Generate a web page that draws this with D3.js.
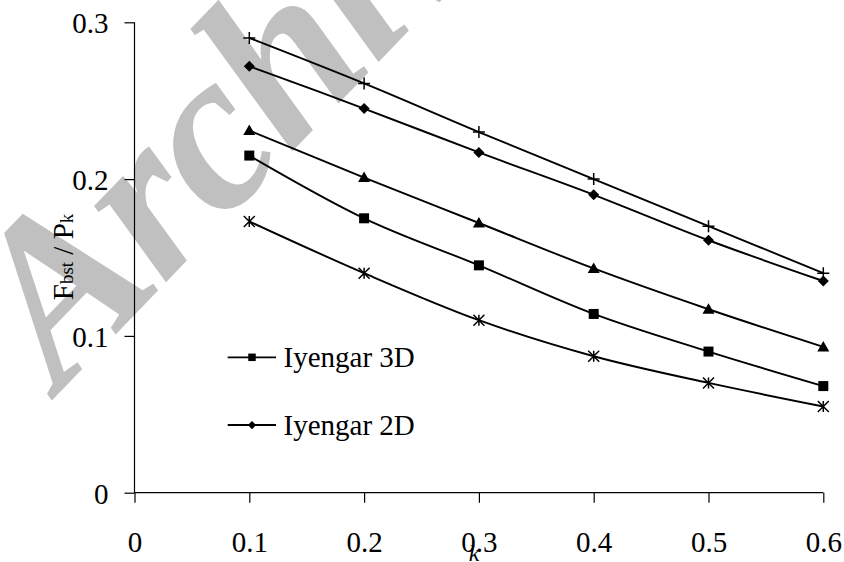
<!DOCTYPE html>
<html>
<head>
<meta charset="utf-8">
<script src="https://cdn.jsdelivr.net/npm/d3@7"></script>
<style>
  html, body { margin: 0; padding: 0; background: #fff; }
  svg { display: block; }
</style>
</head>
<body>
<svg id="chart" width="844" height="562"></svg>
<script>
// ---- data ----
const kValues = [0.1, 0.2, 0.3, 0.4, 0.5, 0.6];
const plusSeries     = [0.290, 0.261, 0.230, 0.200, 0.170, 0.140];
const iyengar2D      = [0.272, 0.245, 0.217, 0.190, 0.161, 0.135];
const triangleSeries = [0.231, 0.201, 0.172, 0.143, 0.117, 0.093];
const iyengar3D      = [0.215, 0.175, 0.145, 0.114, 0.090, 0.068];
const starSeries     = [0.173, 0.140, 0.110, 0.087, 0.070, 0.055];
const xTicks = [0, 0.1, 0.2, 0.3, 0.4, 0.5, 0.6];
const yTicks = [0, 0.1, 0.2, 0.3];
const legendNames = ["Iyengar 3D", "Iyengar 2D"];

const series = [
  { values: plusSeries, marker: "plus" },
  { values: iyengar2D, marker: "diamond" },
  { values: triangleSeries, marker: "triangle" },
  { values: iyengar3D, marker: "square" },
  { values: starSeries, marker: "star" }
];

const FONT = '"Liberation Serif", "Times New Roman", Tinos, "DejaVu Serif", serif';

const svg = d3.select("#chart").style("font-family", FONT);
const x = d3.scaleLinear().domain([0, 0.6]).range([134.5, 823.3]);
const y = d3.scaleLinear().domain([0, 0.3]).range([492.7, 22.3]);

// ---- watermark (behind) ----
svg.append("text")
  .attr("transform", "translate(60,392) rotate(-46)")
  .attr("font-family", FONT)
  .attr("font-size", 228)
  .attr("font-weight", "bold")
  .attr("font-style", "italic")
  .attr("letter-spacing", -4)
  .attr("fill", "#c0c0c0")
  .text("Archive of SID");

// ---- axes ----
const fmt = d => d === 0 ? "0" : d3.format(".1f")(d);
const xAxis = d3.axisBottom(x).tickValues(xTicks).tickSize(10).tickFormat(fmt);
const gx = svg.append("g").attr("transform", `translate(0,${y(0)})`).call(xAxis).attr("font-family", FONT);
gx.select(".domain").attr("stroke", "#000").attr("stroke-width", 1.2).attr("d", `M${x(0)},0H${x(0.6)}`);
gx.selectAll(".tick line").attr("stroke", "#000").attr("stroke-width", 1.2);
gx.selectAll(".tick text").attr("font-size", 29).attr("fill", "#000").attr("dy", null).attr("y", 59);

const yAxis = d3.axisLeft(y).tickValues(yTicks).tickSize(10).tickFormat(fmt);
const gy = svg.append("g").attr("transform", `translate(${x(0)},0)`).call(yAxis).attr("font-family", FONT);
gy.select(".domain").attr("stroke", "#000").attr("stroke-width", 1.2).attr("d", `M0,${y(0)}V${y(0.3)}`);
gy.selectAll(".tick line").attr("stroke", "#000").attr("stroke-width", 1.2);
gy.selectAll(".tick text").attr("font-size", 29).attr("fill", "#000").attr("x", -26).attr("dy", "0.36em");

// ---- marker drawing ----
function drawMarker(g, type, cx, cy, s) {
  s = s || 1;
  if (type === "plus") {
    g.append("path").attr("d", `M${cx-6*s},${cy}H${cx+6*s}M${cx},${cy-6*s}V${cy+6*s}`)
      .attr("stroke", "#000").attr("stroke-width", 1.5).attr("fill", "none");
  } else if (type === "diamond") {
    g.append("path").attr("d", `M0,${-5.5*s}L${5.5*s},0L0,${5.5*s}L${-5.5*s},0Z`)
      .attr("transform", `translate(${cx},${cy})`).attr("fill", "#000");
  } else if (type === "triangle") {
    g.append("path").attr("d", `M0,${-6*s}L${6*s},${4.5*s}L${-6*s},${4.5*s}Z`)
      .attr("transform", `translate(${cx},${cy})`).attr("fill", "#000");
  } else if (type === "square") {
    g.append("rect").attr("x", cx-5*s).attr("y", cy-5*s).attr("width", 10*s).attr("height", 10*s).attr("fill", "#000");
  } else if (type === "star") {
    const r = 5.5*s;
    g.append("path").attr("d",
      `M${cx-r},${cy-r}L${cx+r},${cy+r}M${cx-r},${cy+r}L${cx+r},${cy-r}M${cx},${cy-r}V${cy+r}`)
      .attr("stroke", "#000").attr("stroke-width", 1.5).attr("fill", "none");
  }
}

// ---- lines ----
const line = d3.line().x((d, i) => x(kValues[i])).y(d => y(d)).curve(d3.curveCatmullRom.alpha(0));
const gl = svg.append("g");
series.forEach(s => {
  gl.append("path").datum(s.values).attr("d", line)
    .attr("fill", "none").attr("stroke", "#000").attr("stroke-width", 1.9);
});
const gm = svg.append("g");
series.forEach(s => {
  s.values.forEach((v, i) => drawMarker(gm, s.marker, x(kValues[i]), y(v)));
});

// ---- legend ----
const legendMarkers = ["square", "diamond"];
const legendY = [357.3, 425];
const lg = svg.append("g");
legendNames.forEach((name, i) => {
  lg.append("line").attr("x1", 227.7).attr("x2", 276).attr("y1", legendY[i]).attr("y2", legendY[i])
    .attr("stroke", "#000").attr("stroke-width", 1.8);
  drawMarker(lg, legendMarkers[i], 252, legendY[i], 0.75);
  lg.append("text").attr("x", 283.5).attr("y", legendY[i] + 10).attr("font-family", FONT)
    .attr("font-size", 29).attr("fill", "#000").text(name);
});

// ---- axis titles ----
const yt = svg.append("text").attr("transform", "translate(73,257) rotate(-90)").attr("font-family", FONT)
  .attr("text-anchor", "middle").attr("font-size", 29).attr("fill", "#000");
yt.append("tspan").text("F");
yt.append("tspan").attr("font-size", 19).text("bst");
yt.append("tspan").text(" / P");
yt.append("tspan").attr("font-size", 19).text("k");

svg.append("text").attr("x", 474).attr("y", 561).attr("text-anchor", "middle").attr("font-family", FONT)
  .attr("font-size", 24).attr("font-style", "italic").attr("fill", "#000").text("k");
</script>
</body>
</html>
